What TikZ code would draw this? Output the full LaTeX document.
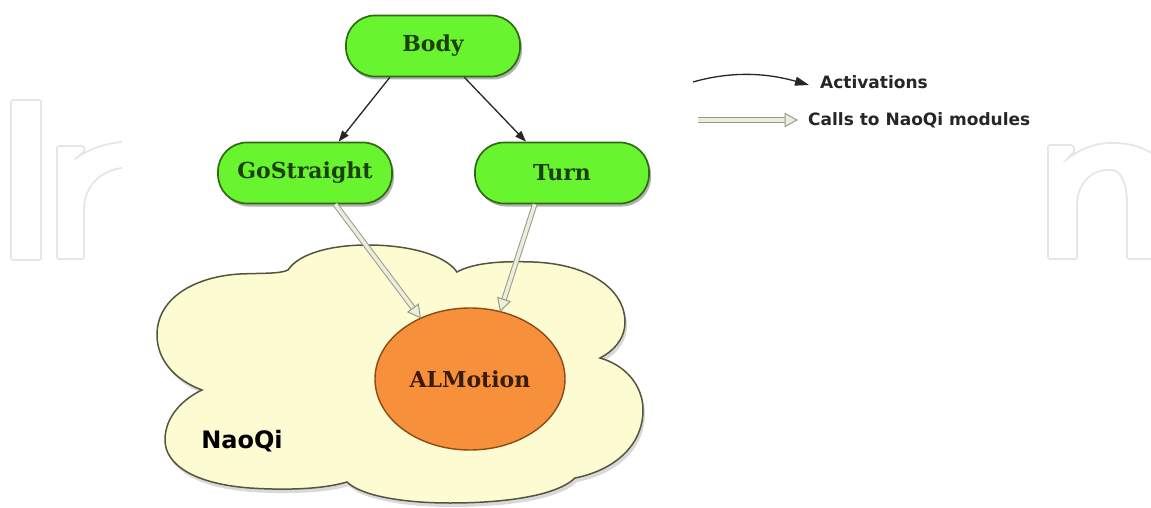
\documentclass[tikz,border=0pt]{standalone}
\usepackage{fontspec}
\setmainfont{DejaVu Serif}
\setsansfont{DejaVu Sans}
\usetikzlibrary{arrows.meta,calc,shapes.geometric,shadows}
\definecolor{gfill}{HTML}{68F530}
\definecolor{gdraw}{HTML}{2F6A14}
\definecolor{gtext}{HTML}{1E3F0C}
\definecolor{ofill}{HTML}{F7903A}
\definecolor{odraw}{HTML}{8C4A14}
\definecolor{otext}{HTML}{3A1C06}
\definecolor{cfill}{HTML}{FDFBD2}
\definecolor{cdraw}{HTML}{55553F}
\definecolor{hdraw}{HTML}{9A9A88}
\definecolor{hfill}{HTML}{ECEEDD}
\definecolor{wm}{HTML}{E6E6E6}
\def\cloudpath{(202,390) .. controls (175,380) and (157,360) .. (157,335)
 .. controls (157,295) and (200,276) .. (240,274)
 .. controls (262,273) and (280,274) .. (288,270)
 .. controls (300,252) and (335,245) .. (367,245)
 .. controls (410,245) and (445,255) .. (457,272)
 .. controls (475,262) and (505,261) .. (533,262)
 .. controls (590,264) and (625,290) .. (625,322)
 .. controls (625,340) and (612,352) .. (600,358)
 .. controls (625,365) and (643,385) .. (643,410)
 .. controls (643,445) and (615,470) .. (575,478)
 .. controls (555,497) and (500,503) .. (450,503)
 .. controls (400,503) and (360,495) .. (347,482)
 .. controls (320,490) and (280,490) .. (250,488)
 .. controls (195,484) and (165,465) .. (165,440)
 .. controls (165,415) and (185,398) .. (202,390) -- cycle}
\begin{document}
\begin{tikzpicture}[x=1pt,y=-1pt,
  greenbox/.style={draw=gdraw, line width=1.7pt, fill=gfill, rounded corners=29pt,
    minimum width=174pt, minimum height=61pt, inner sep=0pt, text=gtext,
    font=\bfseries\fontsize{22}{26}\selectfont,
    drop shadow={shadow xshift=2pt, shadow yshift=-3pt, opacity=0.3, fill=black}},
  modnode/.style={ellipse, draw=odraw, line width=1.4pt, fill=ofill,
    minimum width=190pt, minimum height=142pt, inner sep=0pt, text=otext,
    font=\bfseries\fontsize{22}{26}\selectfont},
  activ/.style={draw=black!85, line width=1.3pt, -{Triangle[length=11pt,width=8pt]}},
  hshaft/.style={draw=hdraw, line width=1pt, double=hfill, double distance=3.5pt},
  hhead/.style={draw=hdraw, line width=1pt, fill=hfill, line join=miter},
  legtext/.style={anchor=west, inner sep=0pt, font=\sffamily\bfseries\fontsize{17}{20}\selectfont, text=black!85},
  wmark/.style={draw=wm, line width=1.8pt, rounded corners=2pt}
]
\useasboundingbox (0,0) rectangle (1151,508);
\clip (0,0) rectangle (1151,508);
% watermark
\draw[wmark] (11,100) rectangle (41,260);
\draw[wmark] (57,259) -- (57,146) -- (84,146) -- (85,151) -- (74,160)
  .. controls (90,148) and (108,142) .. (135,141) -- (135,167)
  .. controls (102,167) and (84,185) .. (84,212) -- (84,259) -- cycle;
\draw[wmark] (1048,259) -- (1048,145) -- (1073,145) -- (1075,151) -- (1066,160)
  .. controls (1080,149) and (1095,143) .. (1112,143)
  .. controls (1140,143) and (1160,155) .. (1165,170) -- (1165,259) -- (1127,259) -- (1127,205)
  .. controls (1127,182) and (1120,170) .. (1110,170)
  .. controls (1090,170) and (1077,185) .. (1077,207) -- (1077,259) -- cycle;
\fill[white] (122,0) rectangle (1040,508);
% cloud
\fill[black, opacity=0.15, shift={(2,4)}] \cloudpath;
\filldraw[fill=cfill, draw=cdraw, line width=1.5pt] \cloudpath;
\node[font=\sffamily\bfseries\fontsize{24}{28}\selectfont] (naoqi) at (242,441) {NaoQi};
% nodes
\node[greenbox] (body) at (433,46) {Body};
\node[greenbox] (gs) at (305,173) {GoStraight};
\node[greenbox] (turn) at (562,173) {Turn};
\node[modnode] (alm) at (470,379) {ALMotion};
% activations
\draw[activ] (body.216) -- (gs.43);
\draw[activ] (body.315) -- (turn.139);
% calls
\coordinate (t1) at (alm.129);
\coordinate (s1) at (gs.314);
\coordinate (b1) at ($(t1)!12pt!(s1)$);
\draw[hshaft] (s1) -- (b1);
\draw[hhead] (t1) -- ($(b1)!6.5pt!90:(t1)$) -- ($(b1)!6.5pt!-90:(t1)$) -- cycle;
\coordinate (t2) at (alm.66);
\coordinate (s2) at (turn.229);
\coordinate (b2) at ($(t2)!12pt!(s2)$);
\draw[hshaft] (s2) -- (b2);
\draw[hhead] (t2) -- ($(b2)!6.5pt!90:(t2)$) -- ($(b2)!6.5pt!-90:(t2)$) -- cycle;
% legend
\coordinate (la1) at (693,82);
\coordinate (la2) at (809,85);
\draw[activ, -{Triangle[length=14pt,width=9pt]}] (la1) .. controls (735,70) and (770,74) .. (la2);
\node[legtext] (lact) at (820,82) {Activations};
\coordinate (lc1) at (698,120);
\coordinate (lc2) at (797,120);
\coordinate (lcb) at ($(lc2)!12pt!(lc1)$);
\draw[hshaft] (lc1) -- (lcb);
\draw[hhead] (lc2) -- ($(lcb)!6.5pt!90:(lc2)$) -- ($(lcb)!6.5pt!-90:(lc2)$) -- cycle;
\node[legtext] (lcall) at (808,120) {Calls to NaoQi modules};
\end{tikzpicture}
\end{document}
